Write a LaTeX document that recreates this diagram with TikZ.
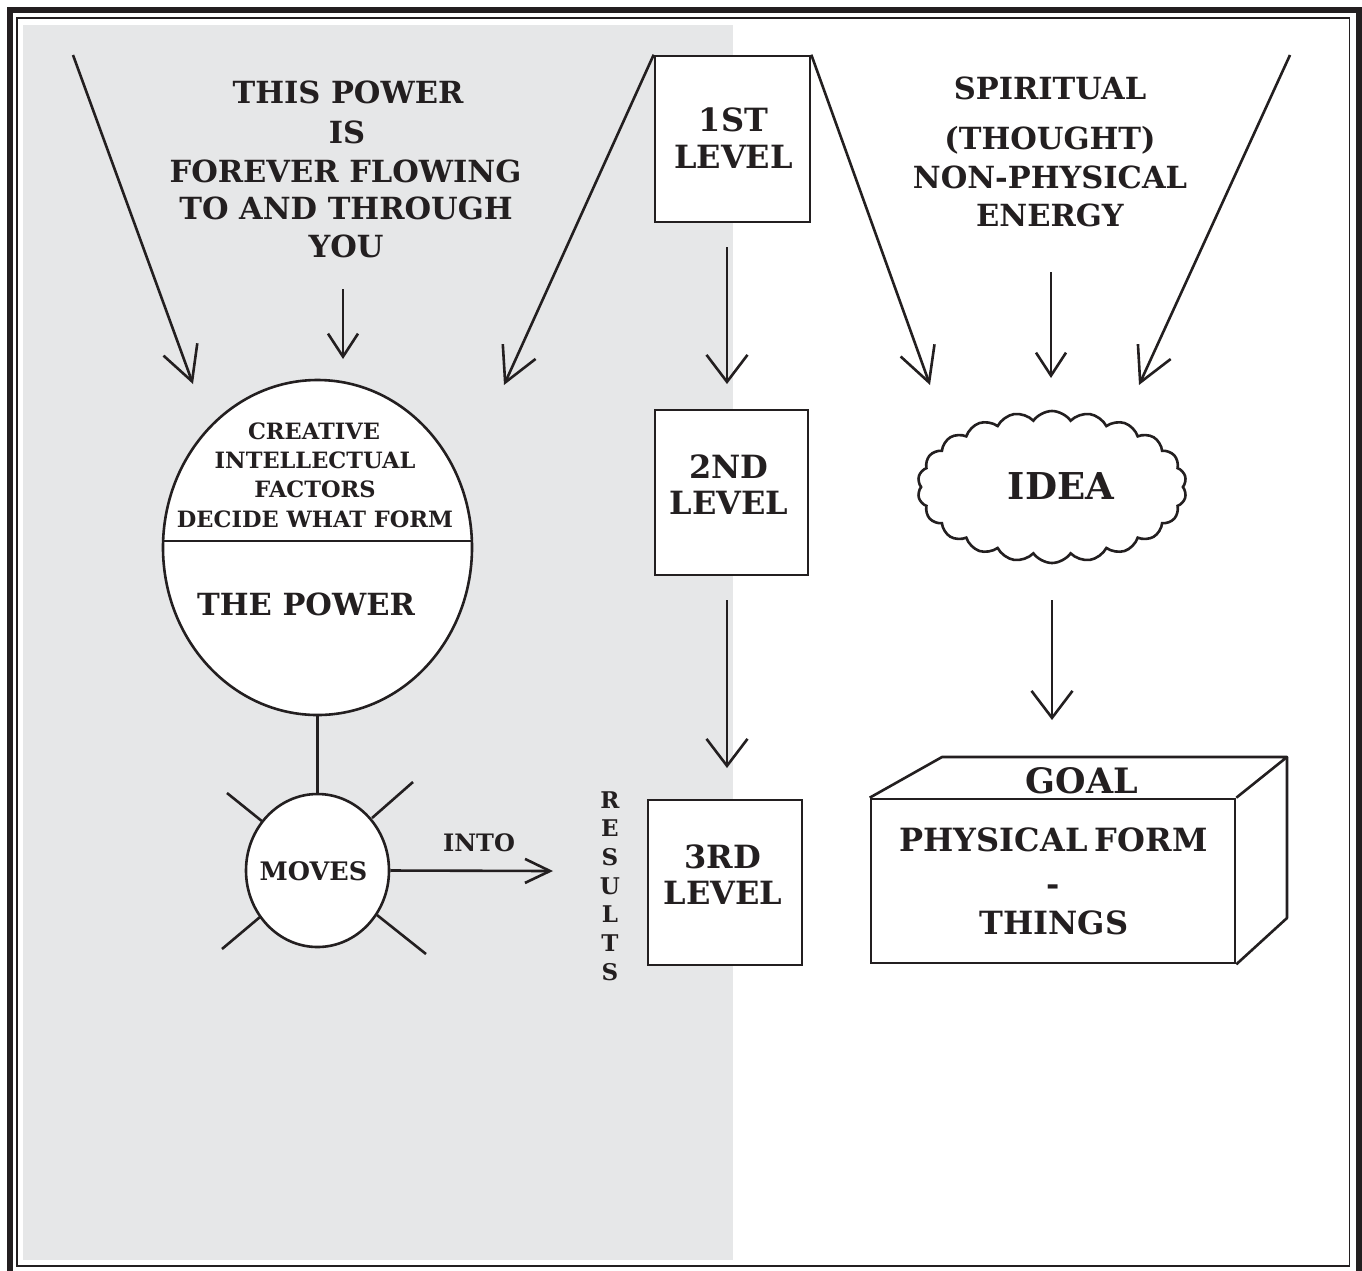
\documentclass[tikz,border=0pt]{standalone}
\usepackage{fontspec}
\setmainfont{DejaVu Serif}
\usetikzlibrary{arrows.meta,shapes.symbols,shapes.geometric}
\definecolor{ink}{HTML}{231F20}
\definecolor{bggrey}{HTML}{E6E7E8}
\tikzset{
  ln/.style={line width=2.6pt, draw=ink},
  box/.style={ln, fill=white, rectangle, inner sep=0pt},
  txt/.style={text=ink, font=\bfseries\fontsize{30.5}{30.5}\selectfont, anchor=base, inner sep=0pt},
  txtl/.style={text=ink, font=\bfseries\fontsize{32}{32}\selectfont, anchor=base, inner sep=0pt},
  txtg/.style={text=ink, font=\bfseries\fontsize{32}{32}\selectfont, anchor=base, inner sep=0pt},
  txts/.style={text=ink, font=\bfseries\fontsize{22.5}{22.5}\selectfont, anchor=base, inner sep=0pt},
  txtm/.style={text=ink, font=\bfseries\fontsize{24}{24}\selectfont, anchor=base, inner sep=0pt},
  arrL/.style={ln, -{Straight Barb[length=34pt,width=36pt]}},
  arrM/.style={ln, -{Straight Barb[length=27pt,width=41pt]}},
  arrS/.style={ln, -{Straight Barb[length=23pt,width=30pt]}},
  arrI/.style={ln, -{Straight Barb[length=25pt,width=24pt]}},
}
\begin{document}
\begin{tikzpicture}[x=1pt,y=-1pt]
\useasboundingbox (0,0) rectangle (1362,1270);
\clip (0,0) rectangle (1362,1270);
\fill[white] (0,0) rectangle (1362,1270);
\draw[ink, line width=6pt] (9.5,9.5) rectangle (1358.5,1280);
\draw[ink, line width=1.8pt] (17,18) rectangle (1349.5,1266);
\fill[bggrey] (23,25) rectangle (733,1260);

% level boxes
\node[box, minimum width=155pt, minimum height=166pt] (l1) at (732.5,139) {};
\node[box, minimum width=153pt, minimum height=165pt] (l2) at (731.5,492.5) {};
\node[box, minimum width=154pt, minimum height=165pt] (l3) at (725,882.5) {};
\node[txtl] (l1a) at (733.5,131) {1ST};
\node[txtl] (l1b) at (733.5,168) {LEVEL};
\node[txtl] (l2a) at (729,478) {2ND};
\node[txtl] (l2b) at (729,514) {LEVEL};
\node[txtl] (l3a) at (723,868) {3RD};
\node[txtl] (l3b) at (723,904) {LEVEL};

% top-left text
\node[txt] (tl1) at (348,103) {THIS POWER};
\node[txt] (tl2) at (347,143) {IS};
\node[txt] (tl3) at (345.5,182) {FOREVER FLOWING};
\node[txt] (tl4) at (346,219) {TO AND THROUGH};
\node[txt] (tl5) at (346,257) {YOU};

% top-right text
\node[txt] (tr1) at (1050,99) {SPIRITUAL};
\node[txt] (tr2) at (1050,149) {(THOUGHT)};
\node[txt] (tr3) at (1050,188) {NON-PHYSICAL};
\node[txt] (tr4) at (1050,226) {ENERGY};

% power ellipse
\node[ln, ellipse, fill=white, minimum width=309pt, minimum height=335pt, inner sep=0pt] (power) at (317.5,547.5) {};
\draw[ln] (163.1,541) -- (471.9,541);
\node[txts] (c1) at (314,439) {CREATIVE};
\node[txts] (c2) at (315,468) {INTELLECTUAL};
\node[txts] (c3) at (315,497) {FACTORS};
\node[txts] (c4) at (315,527) {DECIDE WHAT FORM};
\node[txt] (thepower) at (306,615) {THE POWER};

% moves
\node[ln, ellipse, fill=white, minimum width=143pt, minimum height=153pt, inner sep=0pt] (moves) at (317.5,870.5) {};
\node[text=ink, font=\bfseries\fontsize{25.5}{25.5}\selectfont, anchor=base, inner sep=0pt] (movest) at (313.5,880) {MOVES};
\draw[ln] (power.south) -- (moves.north);
\draw[ln] (227,793) -- (263,822);
\draw[ln] (413,782) -- (372,818);
\draw[ln] (222,949) -- (260,917);
\draw[ln] (426,954) -- (377,915);
\coordinate (intoend) at (553,871);
\draw[arrI] (moves.east) -- (intoend);
\node[txtm] (into) at (479,851) {INTO};
\node[text=ink, font=\bfseries\fontsize{23}{28.7}\selectfont, align=center, inner sep=0pt] (results) at (610,886) {R\\E\\S\\U\\L\\T\\S};

% cloud
\node[cloud, cloud puffs=22, cloud puff arc=110, aspect=1.77, ln, fill=white, minimum width=269pt, minimum height=152pt, inner sep=0pt] (cloud) at (1052,487) {};
\node[text=ink, font=\bfseries\fontsize{37}{37}\selectfont, anchor=base, inner sep=0pt] (idea) at (1061,499) {IDEA};

% goal box
\fill[white] (871,799) -- (942,757) -- (1287,757) -- (1287,918) -- (1235,963) -- (871,963) -- cycle;
\node[box, minimum width=364pt, minimum height=164pt] (goal) at (1053,881) {};
\draw[ln, line join=round] (goal.north west) -- (942,757) -- (1287,757) -- (goal.north east);
\draw[ln, line join=round] (1287,757) -- (1287,918) -- (goal.south east);
\node[text=ink, font=\bfseries\fontsize{35}{35}\selectfont, anchor=base, inner sep=0pt] (goalt) at (1082,793) {GOAL};
\node[txtg] (g1) at (1053.5,851) {PHYSICAL\kern-0.12em\ FORM};
\node[txtg] (g2) at (1053,895) {-};
\node[txtg] (g3) at (1054,934) {THINGS};

% arrows
\coordinate (p1) at (73,55);
\coordinate (p1e) at (193,384);
\draw[arrL] (p1) -- (p1e);
\coordinate (p2) at (343,289);
\coordinate (p2e) at (343,359);
\draw[arrS] (p2) -- (p2e);
\coordinate (p3e) at (504,385);
\draw[arrL] (l1.north west) -- (p3e);
\coordinate (p4) at (727,247);
\coordinate (p4e) at (727,384);
\draw[arrM] (p4) -- (p4e);
\coordinate (p5) at (727,600);
\coordinate (p5e) at (727,768);
\draw[arrM] (p5) -- (p5e);
\coordinate (p6e) at (930,385);
\draw[arrL] (l1.north east) -- (p6e);
\coordinate (p7) at (1051,272);
\coordinate (p7e) at (1051,378);
\draw[arrS] (p7) -- (p7e);
\coordinate (p8) at (1290,55);
\coordinate (p8e) at (1139,385);
\draw[arrL] (p8) -- (p8e);
\coordinate (p9) at (1052,600);
\coordinate (p9e) at (1052,720);
\draw[arrM] (p9) -- (p9e);
\end{tikzpicture}
\end{document}
